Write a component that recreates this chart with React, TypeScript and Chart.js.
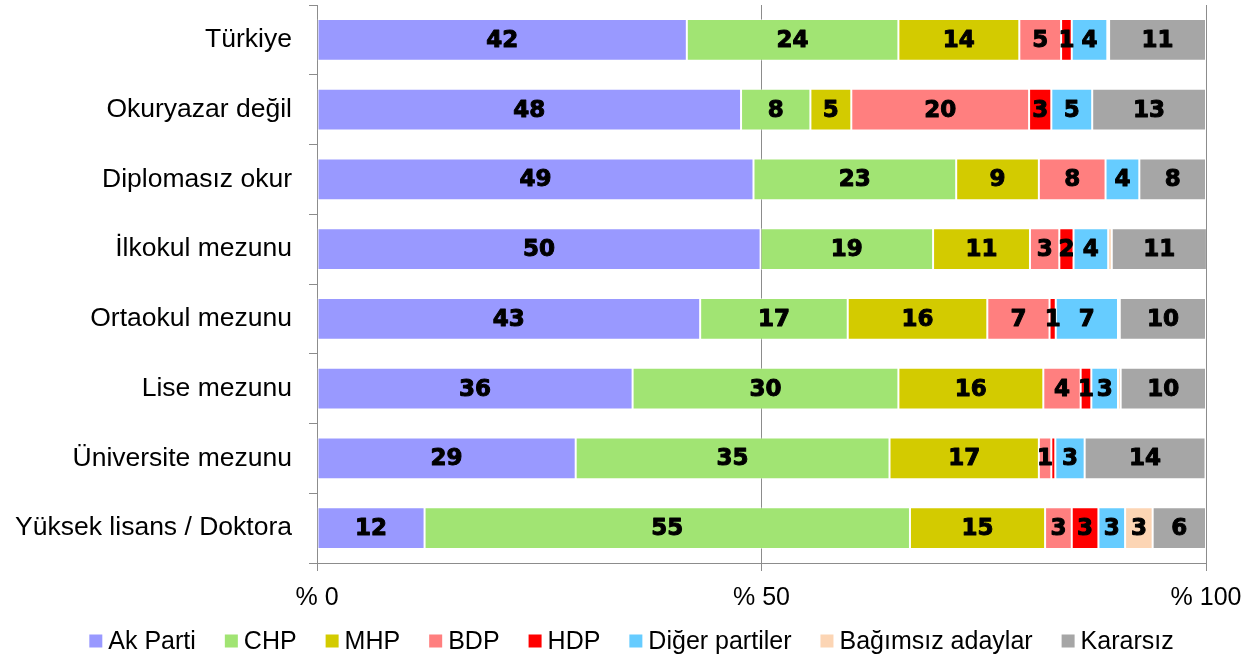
import React, { useEffect, useRef } from "react";
import { Chart, registerables } from "chart.js";

Chart.register(...registerables);

const categories = [
  "Türkiye",
  "Okuryazar değil",
  "Diplomasız okur",
  "İlkokul mezunu",
  "Ortaokul mezunu",
  "Lise mezunu",
  "Üniversite mezunu",
  "Yüksek lisans / Doktora",
];

const seriesNames = ["Ak Parti", "CHP", "MHP", "BDP", "HDP", "Diğer partiler", "Bağımsız adaylar", "Kararsız"];

const akParti = [41.6, 47.7, 49.1, 49.9, 43.1, 35.5, 29.1, 12.1];
const chp = [23.8, 7.8, 22.8, 19.4, 16.6, 29.9, 35.3, 54.6];
const mhp = [13.6, 4.6, 9.3, 10.9, 15.7, 16.3, 16.8, 15.2];
const bdp = [4.7, 20.0, 7.5, 3.3, 7.0, 4.2, 1.4, 3.0];
const hdp = [1.2, 2.5, 0, 1.6, 0.7, 1.2, 0.45, 3.0];
const diger = [4.0, 4.6, 3.8, 3.9, 7.0, 3.0, 3.3, 3.0];
const bagimsiz = [0.2, 0, 0, 0.4, 0.2, 0.3, 0, 3.1];
const kararsiz = [10.9, 12.8, 7.5, 10.7, 9.7, 9.6, 13.6, 6.0];

const xTicks = [0, 50, 100];

const colors = ["#9999FF", "#A1E473", "#D3CB00", "#FF7F7F", "#FF0000", "#66CCFF", "#FCD5B4", "#A6A6A6"];

const allSeries = [akParti, chp, mhp, bdp, hdp, diger, bagimsiz, kararsiz];

const labelPlugin = {
  id: "barLabels",
  afterDatasetsDraw(chart: any) {
    const ctx = chart.ctx;
    ctx.save();
    ctx.font = 'bold 23px "DejaVu Sans"';
    ctx.fillStyle = "#000";
    ctx.strokeStyle = "#000";
    ctx.lineWidth = 1;
    ctx.lineJoin = "round";
    ctx.textAlign = "center";
    ctx.textBaseline = "middle";
    chart.data.datasets.forEach((ds: any, di: number) => {
      const meta = chart.getDatasetMeta(di);
      meta.data.forEach((el: any, i: number) => {
        const v = ds.data[i];
        if (v >= 0.5) {
          const cx = (el.x + el.base) / 2;
          const t = String(Math.round(v));
          ctx.fillText(t, cx, el.y + 1);
          ctx.strokeText(t, cx, el.y + 1);
        }
      });
    });
    ctx.restore();
  },
};

const legendPlugin = {
  id: "customLegend",
  afterDraw(chart: any) {
    const ctx = chart.ctx;
    ctx.save();
    ctx.font = '25px "Liberation Sans"';
    ctx.textBaseline = "middle";
    ctx.textAlign = "left";
    const box = 13;
    const gap = 6;
    const itemGap = 29;
    const items = chart.data.datasets.map((ds: any) => ({
      label: ds.label,
      color: ds.backgroundColor,
      w: box + gap + ctx.measureText(ds.label).width,
    }));
    const total = items.reduce((s: number, it: any) => s + it.w, 0) + itemGap * (items.length - 1);
    let x = (chart.width - total) / 2 + 3;
    const y = 641;
    items.forEach((it: any) => {
      ctx.fillStyle = it.color;
      ctx.fillRect(x, y - box / 2, box, box);
      ctx.fillStyle = "#000";
      ctx.fillText(it.label, x + box + gap, y + 1);
      x += it.w + itemGap;
    });
    ctx.restore();
  },
};

export default function App() {
  const ref = useRef<HTMLCanvasElement | null>(null);
  useEffect(() => {
    if (!ref.current) return;
    const chart = new Chart(ref.current, {
      type: "bar",
      data: {
        labels: categories,
        datasets: allSeries.map((d, i) => ({
          label: seriesNames[i],
          data: d,
          backgroundColor: colors[i],
          borderColor: "rgba(255,255,255,0.45)",
          borderWidth: 1,
          borderSkipped: false,
          barPercentage: 0.6,
          categoryPercentage: 1,
        })),
      },
      options: {
        indexAxis: "y",
        animation: false,
        responsive: false,
        maintainAspectRatio: false,
        layout: { padding: { top: 5, right: 51, bottom: 45, left: 0 } },
        plugins: {
          legend: { display: false },
          tooltip: { enabled: false },
        },
        scales: {
          x: {
            stacked: true,
            min: 0,
            max: 100,
            afterBuildTicks: (s: any) => {
              s.ticks = xTicks.map((v) => ({ value: v }));
            },
            afterFit: (s: any) => {
              s.height = 52;
              s.paddingLeft = 0;
              s.paddingRight = 0;
            },
            ticks: {
              callback: (v: any) => "% " + v,
              font: { family: "Liberation Sans", size: 25 },
              color: "#000",
              padding: 12,
              maxRotation: 0,
            },
            grid: { color: "#8C8C8C", lineWidth: 1, tickLength: 8 },
            border: { display: true, color: "#8C8C8C" },
          },
          y: {
            stacked: true,
            afterFit: (s: any) => {
              s.width = 317;
              s.paddingTop = 0;
              s.paddingBottom = 0;
            },
            ticks: {
              font: { family: "Liberation Sans", size: 26.5 },
              color: "#000",
              padding: 17,
            },
            grid: { offset: true, drawOnChartArea: false, color: "#8C8C8C", tickLength: 8 },
            border: { display: true, color: "#8C8C8C" },
          },
        },
      },
      plugins: [labelPlugin, legendPlugin],
    });
    return () => chart.destroy();
  }, []);
  return (
    <div style={{ position: "absolute", left: 0, top: 0, width: 1257, height: 660, background: "#fff" }}>
      <canvas ref={ref} width={1257} height={660} style={{ width: 1257, height: 660, display: "block" }} />
    </div>
  );
}
